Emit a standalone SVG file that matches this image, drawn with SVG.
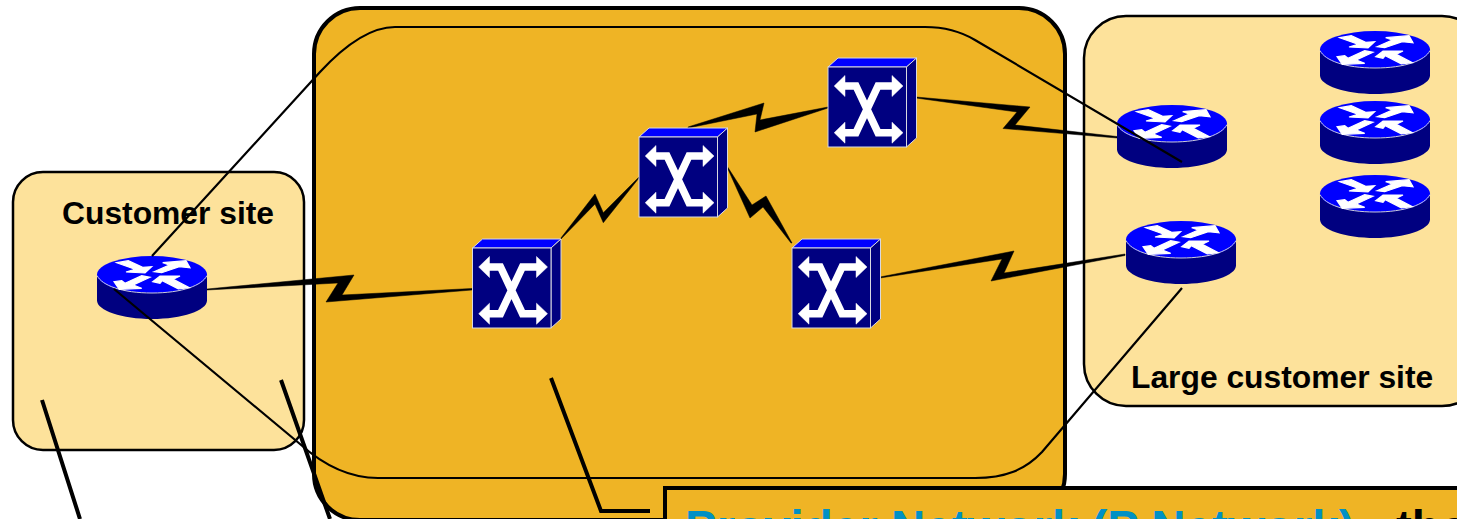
<svg xmlns="http://www.w3.org/2000/svg" width="1457" height="519" viewBox="0 0 1457 519">
<style>
.site{fill:#fde29b;stroke:#000;stroke-width:2.5}
.core{fill:#efb425;stroke:#000;stroke-width:4}
.lab{font-family:"Liberation Sans",Arial,sans-serif;font-weight:bold;font-size:31.8px;fill:#000}
.big{font-family:"Liberation Sans",Arial,sans-serif;font-weight:bold;font-size:47.5px}
.cloud{fill:none;stroke:#000;stroke-width:2.2}
.call{fill:none;stroke:#000;stroke-width:4}
.zig{fill:#000;stroke:#000;stroke-width:.5}
</style>
<defs>
<g id="router">
<path d="M-55,0V26C-55,36-30,44.500,0,44.500S55,36,55,26V0Z" fill="#000080"/>
<ellipse rx="55" ry="18.500" fill="#0000ff"/>
<path d="M-55,1C-50,11-30,18.500,0,18.500S50,11,55,1" fill="none" stroke="#ccd" stroke-width="1"/>
<g fill="#fff" stroke="#fff" stroke-width="1.2">
<polygon points="-35.300,-11.800 -23.700,-13.800 -9.300,-7.200 -0.300,-7.800 -7,-1.500 -26,-2.500 -17,-5.200"/>
<polygon points="2,-2.800 17.300,-9.500 10.700,-11.800 34,-13.800 38,-6.800 27.300,-7.800 9.700,-1.800"/>
<polygon points="-38,7.200 -32.700,14.800 -10.300,13.800 -18.700,10.500 -2,2.800 -10.300,1.200 -27,8.800 -30.300,6.200"/>
<polygon points="0.700,7.200 8,1.500 28,1.500 21.300,4.800 37.300,13.200 26.300,14.500 10.300,6.200 8,8.800"/>
</g>
</g>
<g id="switch">
<polygon points="0,0 10,-9 88.500,-9 78.500,0" fill="#0000ff" stroke="#d8d8e0" stroke-width="1"/>
<polygon points="78.500,0 88.500,-9 88.500,71 78.500,80" fill="#000080" stroke="#d8d8e0" stroke-width="1"/>
<rect width="78.500" height="80" fill="#000080" stroke="#d8d8e0" stroke-width="1"/>
<path d="M16,19H28L50,65.700H65M65,19H50L28,65.700H16" fill="none" stroke="#fff" stroke-width="7.500"/>
<path d="M6.200,19L17,8.500V29.500ZM75,19L64,8.500V29.500ZM6.200,65.700L17,55.200V76.200ZM75,65.700L64,55.200V76.200Z" fill="#fff" stroke="#fff" stroke-width=".5"/>
</g>
</defs>
<rect id="customer-site" class="site" x="13" y="172" width="291" height="278" rx="30"/>
<rect id="provider-network" class="core" x="314" y="8" width="751" height="512" rx="46"/>
<rect id="large-customer-site" class="site" x="1084" y="16" width="400" height="390" rx="42"/>
<text class="lab" x="62" y="224">Customer site</text>
<text class="lab" x="1131" y="388">Large customer site</text>
<g id="connectors">
<polygon class="zig" points="207,289 354,275 342,295 472,288.500 472,290 326,302 338,283 207,290"/>
<polygon class="zig" points="560.700,238.300 595,194 603.300,212.700 639,177 639,178 603.300,222.700 595,204 561,239"/>
<polygon class="zig" points="688,127 764,103 760,120 828,107 828,108 755,132 757,114 688,128"/>
<polygon class="zig" points="916,97 1030,107 1015,125 1117,136.500 1117,138 1003,128.500 1017,112 916,98"/>
<polygon class="zig" points="727,166 752,205 766,196 792,243 791,243 763,207 750,218 727,167"/>
<polygon class="zig" points="880,277 1014,251 1004,273 1125,254 1125,255.500 991,281 1002,259 880,278"/>
</g>
<g id="r0"><use href="#router" x="152" y="274.500"/></g>
<g id="r1"><use href="#router" x="1172" y="123.500"/></g>
<g id="r2"><use href="#router" x="1181" y="239.500"/></g>
<g id="r3"><use href="#router" x="1375" y="49.500"/></g>
<g id="r4"><use href="#router" x="1375" y="119.500"/></g>
<g id="r5"><use href="#router" x="1375" y="193.500"/></g>
<g id="s1"><use href="#switch" x="472.500" y="248"/></g>
<g id="s2"><use href="#switch" x="639" y="137"/></g>
<g id="s3"><use href="#switch" x="828" y="67"/></g>
<g id="s4"><use href="#switch" x="792" y="248"/></g>
<g id="callouts">
<path class="cloud" d="M152,256L320,72C345,45 370,27 395,27H925C945,27 960,31 975,40L1182,162"/>
<path class="cloud" d="M114,289L300,444C320,462 345,478 378,478H975C1005,478 1025,470 1042,452L1182,288"/>
<path class="call" d="M42,400L80,519M281,380L330,519M551,378L601,511H650"/>
</g>
<g id="callout-box">
<rect class="core" x="665" y="488" width="830" height="80"/>
<text class="big" x="685" y="544"><tspan fill="#0090c4">Provider Network (P Network)</tspan><tspan fill="#000" x="1396">the</tspan></text>
</g>
</svg>
